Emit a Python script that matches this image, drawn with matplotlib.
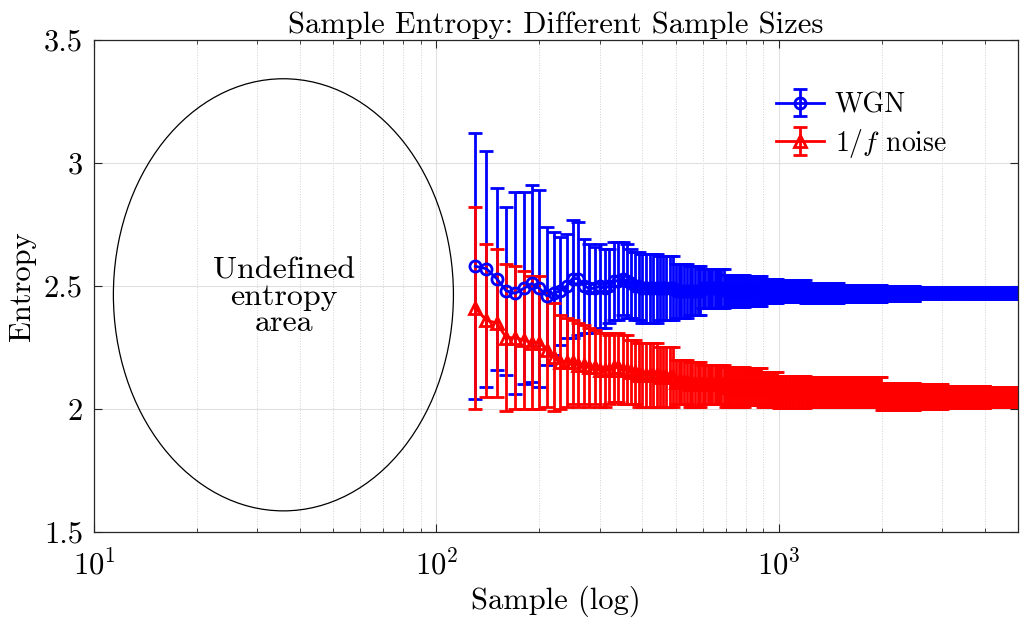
import numpy as np
import matplotlib.pyplot as plt
from matplotlib.patches import Ellipse

plt.rcParams['font.family'] = 'serif'
plt.rcParams['font.serif'] = ['cmr10']
plt.rcParams['mathtext.fontset'] = 'cm'
plt.rcParams['axes.formatter.use_mathtext'] = True

# first samples, read one by one
head_n = [130, 140, 150, 160, 170, 180, 190, 200, 210, 220, 230, 240, 250, 260,
          270, 280, 290, 300, 310, 320, 330, 340, 350, 360, 370, 380, 390, 400]
wgn_head = [2.58, 2.57, 2.53, 2.48, 2.47, 2.49, 2.51, 2.49, 2.46, 2.47, 2.48, 2.50, 2.53, 2.53,
            2.50, 2.49, 2.49, 2.50, 2.49, 2.50, 2.52, 2.52, 2.53, 2.52, 2.51, 2.50, 2.50, 2.49]
wgn_head_err = [0.54, 0.48, 0.37, 0.34, 0.41, 0.39, 0.40, 0.40, 0.28, 0.25, 0.22, 0.21, 0.24, 0.23,
                0.19, 0.18, 0.17, 0.17, 0.16, 0.15, 0.16, 0.16, 0.15, 0.15, 0.14, 0.14, 0.14, 0.14]
pink_head = [2.41, 2.36, 2.35, 2.29, 2.29, 2.28, 2.27, 2.27, 2.24, 2.21, 2.19, 2.19, 2.19, 2.18,
             2.18, 2.17, 2.17, 2.16, 2.16, 2.16, 2.17, 2.17, 2.16, 2.16, 2.15, 2.15, 2.14, 2.14]
pink_head_err = [0.41, 0.31, 0.30, 0.30, 0.29, 0.28, 0.27, 0.27, 0.23, 0.22, 0.19, 0.18, 0.17, 0.17,
                 0.16, 0.16, 0.15, 0.15, 0.15, 0.14, 0.14, 0.14, 0.14, 0.14, 0.13, 0.13, 0.13, 0.13]

# dense part: values read per stretch of sample sizes
seg_start = [410, 450, 500, 550, 600, 700, 800, 900, 1000, 1200, 1500, 2000, 2500, 3000, 4000]
wgn_seg = [2.49, 2.49, 2.48, 2.48, 2.49, 2.48, 2.48, 2.48, 2.48, 2.47, 2.47, 2.47, 2.47, 2.47, 2.47]
wgn_seg_err = [0.14, 0.13, 0.11, 0.10, 0.08, 0.065, 0.06, 0.05, 0.045, 0.04, 0.035, 0.03, 0.025, 0.02, 0.02]
pink_seg = [2.14, 2.13, 2.11, 2.10, 2.10, 2.09, 2.09, 2.08, 2.07, 2.07, 2.07, 2.05, 2.05, 2.05, 2.05]
pink_seg_err = [0.13, 0.12, 0.09, 0.09, 0.08, 0.08, 0.075, 0.07, 0.065, 0.06, 0.06, 0.055, 0.05, 0.045, 0.04]

tail_n = np.arange(410, 5001, 10)
idx = np.searchsorted(seg_start, tail_n, side='right') - 1

n = np.concatenate([head_n, tail_n])
wgn = np.concatenate([wgn_head, np.array(wgn_seg)[idx]])
wgn_err = np.concatenate([wgn_head_err, np.array(wgn_seg_err)[idx]])
pink = np.concatenate([pink_head, np.array(pink_seg)[idx]])
pink_err = np.concatenate([pink_head_err, np.array(pink_seg_err)[idx]])

fig = plt.figure(figsize=(10.26, 6.23), dpi=100)
ax = fig.add_axes([0.0916, 0.146, 0.9006, 0.790])

ax.errorbar(n, wgn, yerr=wgn_err, color='b', marker='o', mfc='none', ms=8, mew=2,
            lw=2, elinewidth=2, capsize=5, capthick=2, label='WGN')
ax.errorbar(n, pink, yerr=pink_err, color='r', marker='^', mfc='none', ms=9, mew=2,
            lw=2, elinewidth=2, capsize=5, capthick=2, label='1/$f$ noise')

ax.add_patch(Ellipse((0.205, 0.482), 0.368, 0.878, transform=ax.transAxes,
                     fill=False, edgecolor='k', lw=0.9))
ax.text(0.206, 0.477, 'Undefined\nentropy\narea', transform=ax.transAxes,
        ha='center', va='center', fontsize=23, linespacing=0.95)

ax.set_xscale('log')
ax.set_xlim(10, 5000)
ax.set_ylim(1.5, 3.5)
ax.set_yticks([1.5, 2, 2.5, 3, 3.5])
ax.set_yticklabels(['1.5', '2', '2.5', '3', '3.5'])

ax.grid(True, which='major', color='#e0e0e0', lw=0.8)
ax.grid(True, which='minor', axis='x', color='#d0d0d0', lw=0.7, ls=':')
ax.set_axisbelow(True)
ax.tick_params(which='both', direction='in', top=True, right=True, labelsize=22,
               color='#262626')
ax.tick_params(which='major', length=6)
ax.tick_params(which='minor', length=3)
ax.tick_params(axis='x', pad=13)
ax.tick_params(axis='y', pad=8)
for s in ax.spines.values():
    s.set_color('#262626')
    s.set_linewidth(0.9)

ax.set_title('Sample Entropy: Different Sample Sizes', fontsize=22, pad=5)
ax.set_xlabel('Sample (log)', fontsize=22, labelpad=3)
ax.set_ylabel('Entropy', fontsize=22, labelpad=6)
ax.legend(loc='upper right', bbox_to_anchor=(0.95, 0.945), frameon=False, fontsize=20,
          handlelength=1.7, handletextpad=0.4, labelspacing=0.3)

fig.savefig('out.png', dpi=100)
